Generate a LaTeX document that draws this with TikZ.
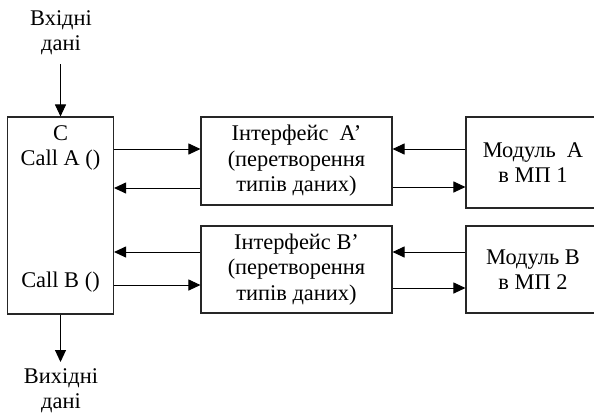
\documentclass[tikz,border=0pt]{standalone}
\usepackage{fontspec}
\setmainfont{Liberation Serif}
\usetikzlibrary{arrows.meta}
\begin{document}
\begin{tikzpicture}[x=1bp,y=-1bp,
  box/.style={draw=black!85,line width=1.1bp,inner sep=0pt,align=center,
    font=\fontsize{22.5}{25.5}\selectfont},
  arr/.style={-{Triangle[length=12bp,width=11bp]},line width=1bp},
  txt/.style={font=\fontsize{22.5}{25.5}\selectfont,align=center,inner sep=0pt}]
\useasboundingbox (0,0) rectangle (594,414);
% boxes
\node[box,minimum width=106bp,minimum height=197bp] (L) at (60.5,215.5) {};
\node[box,minimum width=191bp,minimum height=88bp] (IA) at (296.5,161)
  {Інтерфейс~~А’\\(перетворення\\типів даних)};
\node[box,minimum width=191bp,minimum height=87bp] (IB) at (296.5,269.5)
  {Інтерфейс В’\\(перетворення\\типів даних)};
\node[box,minimum width=134bp,minimum height=91bp] (MA) at (533,162.5)
  {Модуль~~А\\в МП 1};
\node[box,minimum width=134bp,minimum height=87bp] (MB) at (533,269.5)
  {Модуль В\\в МП 2};
% texts in the left box
\node[txt] (c) at (60.5,133) {C};
\node[txt] (ca) at (60.5,160) {Call A ()};
\node[txt] (cb) at (60.5,282) {Call B ()};
% input / output
\node[txt] (in) at (61,33) {Вхідні\\дані};
\node[txt] (out) at (61,391) {Вихідні\\дані};
\coordinate (inend) at (60.5,64);
\coordinate (outend) at (60.5,362);
\draw[arr] (inend) -- (L.north);
\draw[arr] (L.south) -- (outend);
% levels
\coordinate (y1) at (0,149);
\coordinate (y2) at (0,188);
\coordinate (y3) at (0,252);
\coordinate (y4) at (0,285);
\coordinate (z1) at (0,149);
\coordinate (z2) at (0,187);
\coordinate (z3) at (0,252);
\coordinate (z4) at (0,288);
\draw[arr] (L.east |- y1) -- (IA.west |- y1);
\draw[arr] (IA.west |- y2) -- (L.east |- y2);
\draw[arr] (IB.west |- y3) -- (L.east |- y3);
\draw[arr] (L.east |- y4) -- (IB.west |- y4);
\draw[arr] (MA.west |- z1) -- (IA.east |- z1);
\draw[arr] (IA.east |- z2) -- (MA.west |- z2);
\draw[arr] (MB.west |- z3) -- (IB.east |- z3);
\draw[arr] (IB.east |- z4) -- (MB.west |- z4);
\end{tikzpicture}
\end{document}
